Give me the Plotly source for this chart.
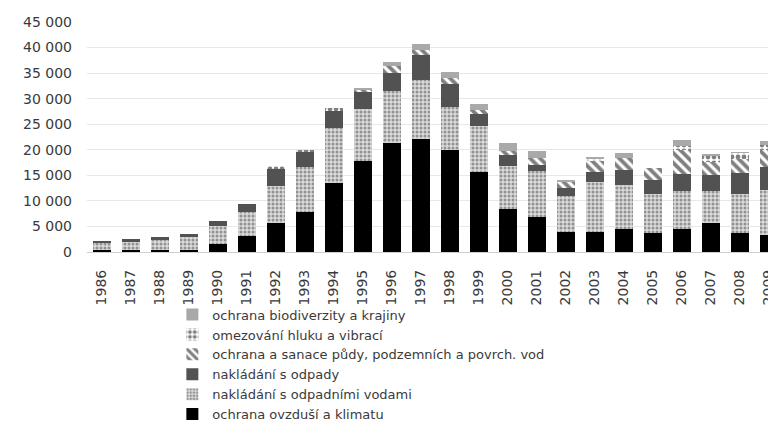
import plotly.graph_objects as go

years = [str(y) for y in range(1986, 2010)]

# bottom to top of each stack
ovzdusi = [460, 460, 460, 460, 1560, 3070, 5670, 7830, 13500, 17740, 21330, 22170,
           20020, 15650, 8410, 6900, 3980, 3980, 4500, 3720, 4570, 5670, 3650, 3330]
odpadni_vody = [1300, 1430, 1820, 2410, 3460, 4760, 7180, 8870, 10760, 10300, 10230, 11420,
                8350, 8940, 8480, 8880, 7040, 9650, 8670, 7690, 7300, 6200, 7760, 8860]
odpady = [460, 650, 590, 590, 980, 1500, 3390, 2900, 3390, 3200, 3540, 4860,
          4560, 2470, 2150, 1310, 1500, 1960, 2810, 2610, 3390, 3260, 4050, 4370]
pudy = [0, 0, 0, 0, 0, 0, 0, 0, 0, 520, 1230, 1140,
        1110, 780, 660, 1300, 1110, 2150, 2410, 2410, 4630, 2480, 2740, 3460]
hluk = [0, 0, 0, 0, 0, 0, 650, 400, 520, 0, 0, 0,
        0, 0, 0, 0, 0, 500, 0, 0, 910, 1240, 1170, 980]
biodiverzita = [0, 0, 0, 0, 0, 0, 0, 0, 0, 330, 840, 1170,
                1180, 1120, 1630, 1440, 520, 350, 980, 0, 1180, 200, 130, 650]

FONT = "DejaVu Sans"
TEXT = "#3a3a3a"

series = [
    ("ochrana ovzduší a klimatu", ovzdusi, dict(color="#000000")),
    ("nakládání s odpadními vodami", odpadni_vody,
     dict(color="#bdbdbd", pattern=dict(shape=".", fgcolor="#4a4a4a", bgcolor="#dadada",
                                        size=4, solidity=0.45))),
    ("nakládání s odpady", odpady, dict(color="#525252")),
    ("ochrana a sanace půdy, podzemních a povrch. vod", pudy,
     dict(color="#808080", pattern=dict(shape="\\", fgcolor="#000000", bgcolor="#ffffff",
                                        size=7, solidity=0.55))),
    ("omezování hluku a vibrací", hluk,
     dict(color="#808080", pattern=dict(shape=".", fgcolor="#000000", bgcolor="#ffffff",
                                        size=6, solidity=0.5))),
    ("ochrana biodiverzity a krajiny", biodiverzita, dict(color="#a9a9a9")),
]

fig = go.Figure()
for name, values, marker in series:
    fig.add_trace(go.Bar(x=years, y=values, name=name,
                         marker=dict(line=dict(width=0), **marker)))

# the page body adds an 8px offset, so the figure is 8px smaller than the window
fig.update_layout(
    barmode="stack",
    bargap=0.38,
    width=768,
    height=416,
    margin=dict(l=79, r=0, t=14, b=172, autoexpand=False),
    paper_bgcolor="white",
    plot_bgcolor="white",
    separators=", ",
    font=dict(family=FONT, size=14, color=TEXT),
    legend=dict(
        traceorder="reversed",
        xref="container", yref="container",
        x=0.214, y=0.299, xanchor="left", yanchor="top",
        font=dict(family=FONT, size=13, color=TEXT),
        itemwidth=30,
        bgcolor="rgba(0,0,0,0)",
    ),
)
fig.update_xaxes(
    type="category",
    range=[-0.5, 23.25],
    tickangle=-90,
    showgrid=False,
    ticks="",
    ticklabelstandoff=14,
    tickfont=dict(family=FONT, size=14, color=TEXT),
)
fig.update_yaxes(
    range=[0, 45000],
    dtick=5000,
    tickformat=",",
    showgrid=True,
    gridcolor="#e8e8e8",
    gridwidth=1,
    zeroline=True,
    zerolinecolor="#d0d0d0",
    zerolinewidth=1,
    ticks="",
    ticklabelstandoff=14,
    tickfont=dict(family=FONT, size=14, color=TEXT),
)

fig.write_html("out.html")
